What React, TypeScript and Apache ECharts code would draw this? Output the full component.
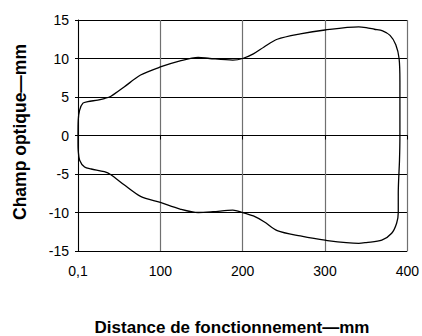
import React, { useEffect, useRef } from "react";
import * as echarts from "echarts";

// Upper edge of the optical field (distance mm, half-field mm), left to right
const upperEdge: [number, number][] = [
  [0, 0], [0.3, 2], [2, 3.3], [6, 4.2], [12, 4.4], [24, 4.6], [32, 4.8], [40, 5.1],
  [56, 6.3], [76, 7.85], [100, 8.9], [124, 9.7], [146, 10.15], [160, 10.0], [188, 9.8],
  [200, 10.0], [213, 10.6], [226, 11.5], [242, 12.5], [270, 13.2], [300, 13.7],
  [341, 14.1], [350, 14.0], [360, 13.8], [370, 13.6], [379, 13.0], [386, 11.8],
  [390, 10], [391, 7], [391, 4], [391, 0],
];
// Lower edge, right to left
const lowerEdge: [number, number][] = [
  [390.5, -3.2], [389, -7.5], [389, -10], [387, -11.4], [381, -12.7], [369, -13.6],
  [350, -13.9], [341, -14.0], [300, -13.6], [270, -13.05], [242, -12.35], [226, -11.2],
  [213, -10.45], [200, -10.0], [188, -9.7], [164, -9.9], [146, -10.0], [124, -9.55],
  [100, -8.7], [76, -7.9], [56, -6.4], [40, -5.1], [32, -4.7], [16, -4.35], [8, -4.1],
  [2, -3.2], [0.3, -2], [0, -0.8], [0, 0],
];

const xTickLabels: Record<number, string> = { 0: "0,1", 100: "100", 200: "200", 300: "300", 400: "400" };
const xTitle = "Distance de fonctionnement—mm";
const yTitle = "Champ optique—mm";

export default function App() {
  const ref = useRef<HTMLDivElement>(null);
  useEffect(() => {
    document.body.style.margin = "0";
    const chart = echarts.init(ref.current!, null, { renderer: "svg" });
    const font = "'Liberation Sans', Arial, sans-serif";
    chart.setOption({
      animation: false,
      backgroundColor: "#fff",
      grid: { left: 78, right: 10, top: 20, bottom: 85, containLabel: false },
      xAxis: {
        type: "value",
        min: 0,
        max: 400,
        interval: 100,
        axisLine: { show: true, lineStyle: { color: "#000", width: 1 } },
        axisTick: { show: true, length: 4, lineStyle: { color: "#000" } },
        axisLabel: {
          color: "#000",
          fontSize: 14,
          fontFamily: font,
          margin: 13,
          formatter: (v: number) => xTickLabels[v] ?? String(v),
        },
        splitLine: { show: true, lineStyle: { color: "#707070", width: 1.2 } },
      },
      yAxis: {
        type: "value",
        min: -15,
        max: 15,
        interval: 5,
        axisLine: { show: true, lineStyle: { color: "#000", width: 1 } },
        axisTick: { show: true, length: 3, lineStyle: { color: "#000" } },
        axisLabel: { color: "#000", fontSize: 14, fontFamily: font, margin: 9 },
        splitLine: { show: true, lineStyle: { color: "#000", width: 1 } },
      },
      series: [
        {
          type: "line",
          data: [...upperEdge, ...lowerEdge],
          showSymbol: false,
          smooth: 0.3,
          lineStyle: { color: "#000", width: 1.3 },
        },
      ],
      graphic: [
        {
          type: "text",
          x: 232,
          y: 327,
          style: {
            text: xTitle,
            fill: "#000",
            font: `bold 17px ${font}`,
            textAlign: "center",
            textVerticalAlign: "middle",
          },
        },
        {
          type: "text",
          x: 19.5,
          y: 132,
          rotation: Math.PI / 2,
          style: {
            text: yTitle,
            fill: "#000",
            font: `bold 17.5px ${font}`,
            textAlign: "center",
            textVerticalAlign: "middle",
          },
        },
      ],
    });
    return () => chart.dispose();
  }, []);
  return <div ref={ref} style={{ width: 422, height: 336 }} />;
}
